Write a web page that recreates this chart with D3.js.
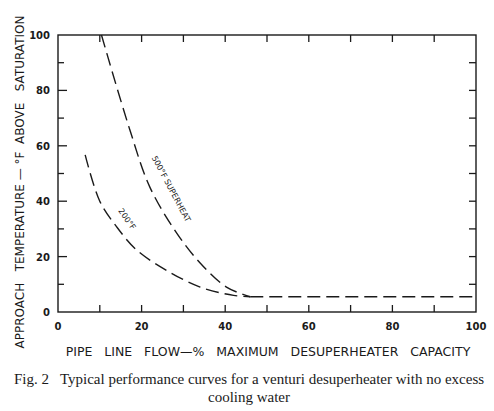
<!DOCTYPE html>
<html><head><meta charset="utf-8">
<script src="https://cdn.jsdelivr.net/npm/d3@7"></script>
<style>body{margin:0;background:#fff}</style>
</head><body>
<svg id="chart" width="494" height="411"></svg>
<script>
// curve readings: flow % vs approach temperature
const flow500 = [10.4, 17.2, 22, 28.4, 34, 40.3, 46];
const temp500 = [100, 65.7, 45, 28.5, 17.7, 9, 5.5];
const flow200 = [6.5, 10, 14, 18.8, 26, 34, 42, 46];
const temp200 = [56.7, 40, 30.8, 22.4, 15, 9, 6, 5.5];
const flowFlat = [46, 100];
const tempFlat = [5.5, 5.5];
const tickLabels = [0, 20, 40, 60, 80, 100];

const svg = d3.select('#chart');
const x = d3.scaleLinear().domain([0, 100]).range([58, 476]);
const y = d3.scaleLinear().domain([0, 100]).range([312, 35]);
const ink = '#1a1a1a';
const font = 'DejaVu Sans, sans-serif';

// frame
svg.append('rect').attr('x', 58).attr('y', 35).attr('width', 418).attr('height', 277)
  .attr('fill', 'none').attr('stroke', ink).attr('stroke-width', 1.4);

const ticks = d3.range(10, 100, 10);
const tg = svg.append('g').attr('stroke', ink).attr('stroke-width', 1.3);
// inward ticks on all four sides
tg.selectAll('.tb').data(ticks).join('line').attr('class', 'tb')
  .attr('x1', d => x(d)).attr('x2', d => x(d)).attr('y1', 312).attr('y2', 305);
tg.selectAll('.tt').data(ticks).join('line').attr('class', 'tt')
  .attr('x1', d => x(d)).attr('x2', d => x(d)).attr('y1', 35).attr('y2', 42);
tg.selectAll('.tl').data(ticks).join('line').attr('class', 'tl')
  .attr('y1', d => y(d)).attr('y2', d => y(d)).attr('x1', 58).attr('x2', d => d % 20 ? 64 : 67);
tg.selectAll('.tr').data(ticks).join('line').attr('class', 'tr')
  .attr('y1', d => y(d)).attr('y2', d => y(d)).attr('x1', 476).attr('x2', 469);

// tick labels
svg.append('g').selectAll('text').data(tickLabels).join('text')
  .attr('x', d => x(d)).attr('y', 330).attr('text-anchor', 'middle')
  .attr('font-family', font).attr('font-size', 10).attr('font-weight', 'bold').attr('fill', ink)
  .text(d => d);
svg.append('g').selectAll('text').data(tickLabels).join('text')
  .attr('x', 50).attr('y', d => y(d) + 4).attr('text-anchor', 'end')
  .attr('font-family', font).attr('font-size', 10).attr('font-weight', 'bold').attr('fill', ink)
  .text(d => d);

// curves
const line = d3.line().x(d => x(d[0])).y(d => y(d[1])).curve(d3.curveCatmullRom.alpha(0.5));
const series = [
  d3.zip(flow500, temp500),
  d3.zip(flow200, temp200),
  d3.zip(flowFlat, tempFlat)
];
svg.append('g').selectAll('path').data(series).join('path')
  .attr('d', line).attr('fill', 'none').attr('stroke', ink)
  .attr('stroke-width', 1.4).attr('stroke-dasharray', '13,6');

// curve labels
svg.append('text').attr('transform', `translate(${x(26.5)},${y(44)}) rotate(62)`)
  .attr('text-anchor', 'middle').attr('font-family', font).attr('font-size', 8).attr('fill', ink)
  .text('500°F SUPERHEAT');
svg.append('text').attr('transform', `translate(${x(16)},${y(33)}) rotate(55)`)
  .attr('text-anchor', 'middle').attr('font-family', font).attr('font-size', 8).attr('fill', ink)
  .text('200°F');

// axis titles
svg.append('text').attr('x', 268).attr('y', 356).attr('text-anchor', 'middle')
  .attr('font-family', font).attr('font-size', 12.5).attr('fill', ink)
  .style('white-space', 'pre')
  .text('PIPE   LINE   FLOW—%   MAXIMUM   DESUPERHEATER   CAPACITY');
svg.append('text').attr('transform', 'translate(24,182) rotate(-90)').attr('text-anchor', 'middle')
  .attr('font-family', font).attr('font-size', 12).attr('fill', ink)
  .style('white-space', 'pre')
  .text('APPROACH   TEMPERATURE — °F  ABOVE   SATURATION');

// caption
const cap = 'Liberation Serif, serif';
svg.append('text').attr('x', 249).attr('y', 384).attr('text-anchor', 'middle')
  .attr('font-family', cap).attr('font-size', 15).attr('fill', ink).style('white-space', 'pre')
  .text('Fig. 2   Typical performance curves for a venturi desuperheater with no excess');
svg.append('text').attr('x', 249).attr('y', 402).attr('text-anchor', 'middle')
  .attr('font-family', cap).attr('font-size', 15).attr('fill', ink)
  .text('cooling water');
</script>
</body></html>
